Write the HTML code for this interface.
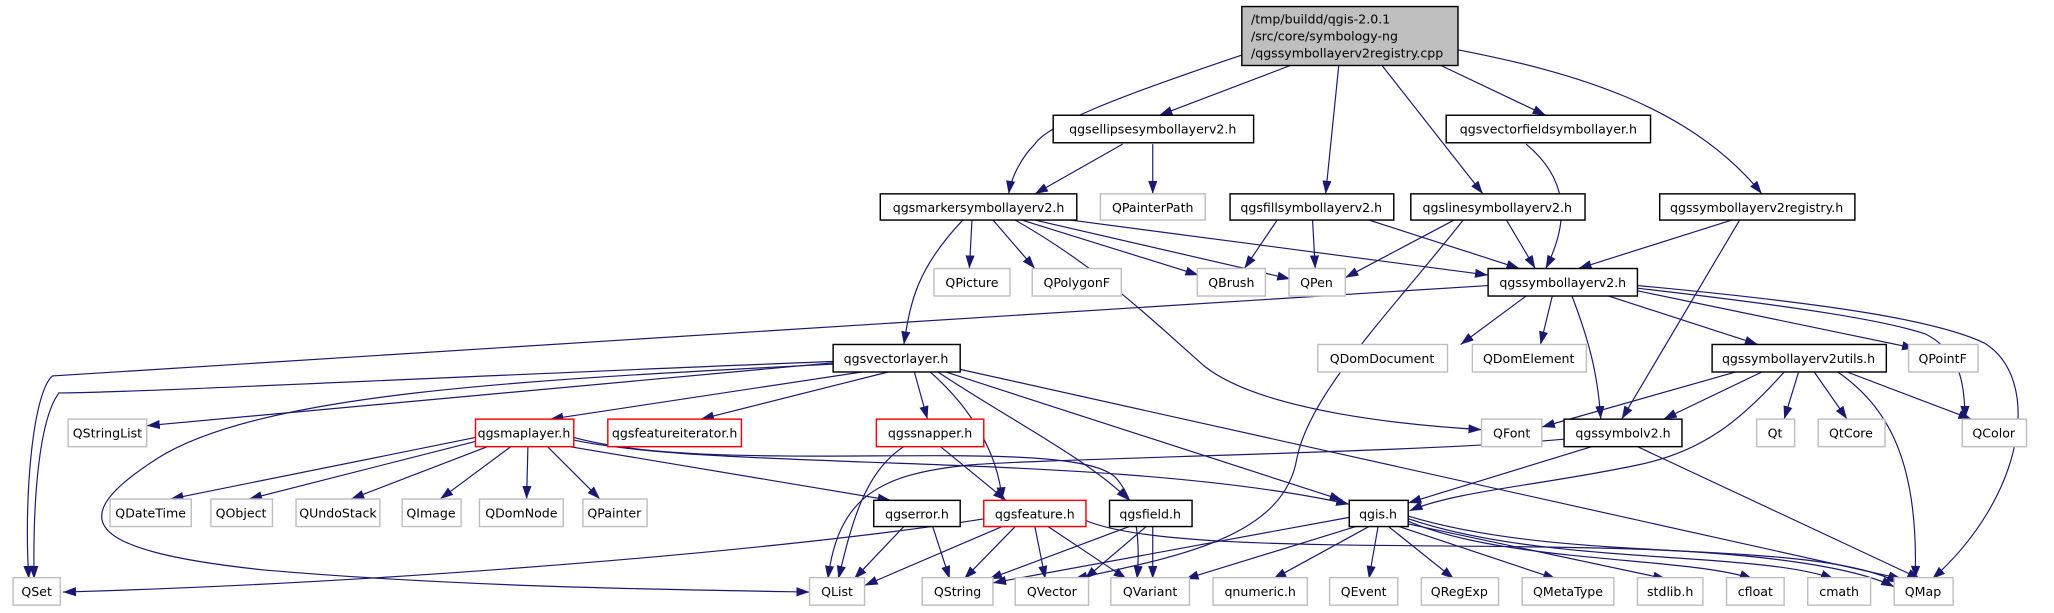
<!DOCTYPE html>
<html><head><meta charset="utf-8"><style>
html,body{margin:0;padding:0;background:#fff;}
svg{display:block;}
text{font-family:"DejaVu Sans","Liberation Sans",sans-serif;font-size:9.6px;fill:#000;}
.e{fill:none;stroke:#191970;stroke-width:0.9;marker-end:url(#a);}
.n{fill:#fff;stroke:#000;stroke-width:1.1;}
.g{fill:#fff;stroke:#bfbfbf;stroke-width:1.1;}
.r{fill:#fff;stroke:#ff0000;stroke-width:1.1;}
</style></head><body>
<svg width="2054" height="613" viewBox="0 0 1568 468" preserveAspectRatio="none" xmlns="http://www.w3.org/2000/svg">
<defs><marker id="a" markerWidth="10" markerHeight="7" refX="10" refY="3.5" orient="auto" markerUnits="userSpaceOnUse"><path d="M0,0 L10,3.5 L0,7 z" fill="#191970"/></marker></defs>
<g>
<path class="e" d="M948,42 C850,75 800,95 790,110 C780,120 772,135 770,148"/>
<path class="e" d="M985,50 L885,88"/>
<path class="e" d="M1022,50 L1012,148"/>
<path class="e" d="M1055,50 L1132,148"/>
<path class="e" d="M1100,50 L1180,88"/>
<path class="e" d="M1113,38 C1200,55 1290,80 1345,148"/>
<path class="e" d="M857,110 L790,148"/>
<path class="e" d="M880,110 L880,148"/>
<path class="e" d="M1165,110 C1195,135 1200,165 1180,205"/>
<path class="e" d="M742,168 L740,205"/>
<path class="e" d="M758,168 L790,205"/>
<path class="e" d="M780,168 L915,210"/>
<path class="e" d="M790,168 L985,213"/>
<path class="e" d="M802,166 L1136,210"/>
<path class="e" d="M775,168 C840,205 880,245 920,280 C965,315 1080,325 1131,328"/>
<path class="e" d="M735,168 C700,205 695,230 690,263"/>
<path class="e" d="M975,168 L950,205"/>
<path class="e" d="M1002,168 L1004,205"/>
<path class="e" d="M1045,168 L1160,205"/>
<path class="e" d="M1110,168 L1027,212"/>
<path class="e" d="M1150,168 L1172,205"/>
<path class="e" d="M1117,168 C1060,240 1000,300 990,350 C980,410 900,425 820,442"/>
<path class="e" d="M1322,168 L1205,205"/>
<path class="e" d="M1328,168 L1238,320"/>
<path class="e" d="M1136,218 L40,287 C25,300 18,380 22,442"/>
<path class="e" d="M1165,226 L1115,263"/>
<path class="e" d="M1185,226 L1176,263"/>
<path class="e" d="M1200,226 C1215,265 1220,290 1222,320"/>
<path class="e" d="M1228,226 L1342,263"/>
<path class="e" d="M1250,222 L1462,266"/>
<path class="e" d="M1250,220 C1380,235 1440,245 1470,255 C1495,268 1500,290 1500,320"/>
<path class="e" d="M1250,218 C1400,232 1480,245 1515,262 C1560,290 1545,380 1475,442"/>
<path class="e" d="M636,276 C400,285 100,300 45,300 C30,320 25,380 26,442"/>
<path class="e" d="M636,277 L112,325"/>
<path class="e" d="M636,278 C400,290 200,300 120,350 C50,395 60,420 200,435 C350,448 500,450 618,452"/>
<path class="e" d="M658,284 L420,320"/>
<path class="e" d="M678,284 L535,320"/>
<path class="e" d="M698,284 L708,320"/>
<path class="e" d="M710,284 C740,310 762,345 765,382"/>
<path class="e" d="M716,284 C770,320 830,350 862,382"/>
<path class="e" d="M722,284 L1025,382"/>
<path class="e" d="M733,282 L1452,442"/>
<path class="e" d="M363,334 L130,381"/>
<path class="e" d="M363,337 L190,381"/>
<path class="e" d="M372,341 L268,381"/>
<path class="e" d="M390,341 L336,381"/>
<path class="e" d="M403,341 L402,381"/>
<path class="e" d="M418,341 L458,381"/>
<path class="e" d="M435,341 L680,382"/>
<path class="e" d="M438,336 C550,360 850,345 1030,385"/>
<path class="e" d="M438,334 C550,365 820,330 852,365 C870,385 870,420 868,442"/>
<path class="e" d="M690,341 C660,360 650,400 640,442"/>
<path class="e" d="M718,341 L768,382"/>
<path class="e" d="M690,402 L652,442"/>
<path class="e" d="M712,402 L725,442"/>
<path class="e" d="M752,396 C600,420 300,445 48,452"/>
<path class="e" d="M765,402 L660,447"/>
<path class="e" d="M775,402 L736,442"/>
<path class="e" d="M790,402 L798,442"/>
<path class="e" d="M800,402 L860,442"/>
<path class="e" d="M828,397 C880,420 1050,415 1200,418 C1350,420 1420,435 1446,448"/>
<path class="e" d="M862,402 L755,442"/>
<path class="e" d="M875,402 L828,442"/>
<path class="e" d="M880,402 L880,442"/>
<path class="e" d="M1030,395 L758,445"/>
<path class="e" d="M1035,402 L905,442"/>
<path class="e" d="M1045,402 L972,442"/>
<path class="e" d="M1052,402 L1045,442"/>
<path class="e" d="M1060,402 L1110,442"/>
<path class="e" d="M1068,402 L1188,442"/>
<path class="e" d="M1075,400 L1272,442"/>
<path class="e" d="M1075,398 C1150,430 1290,425 1338,442"/>
<path class="e" d="M1075,396 C1180,432 1340,420 1400,442"/>
<path class="e" d="M1075,394 C1200,432 1380,410 1450,445"/>
<path class="e" d="M1196,335 C1100,345 800,350 740,355 C670,362 640,380 632,442"/>
<path class="e" d="M1215,341 L1075,384"/>
<path class="e" d="M1250,341 L1466,442"/>
<path class="e" d="M1325,284 L1177,326"/>
<path class="e" d="M1345,284 L1270,320"/>
<path class="e" d="M1362,284 C1330,320 1300,345 1250,355 C1180,370 1110,375 1076,390"/>
<path class="e" d="M1373,284 L1362,320"/>
<path class="e" d="M1385,284 L1410,320"/>
<path class="e" d="M1410,284 L1505,320"/>
<path class="e" d="M1403,284 C1440,310 1465,350 1462,442"/>
</g>
<g>
<rect x="948" y="5" width="165" height="45" fill="#bfbfbf" stroke="#000" stroke-width="1.1"/>
<text x="955" y="18">/tmp/buildd/qgis-2.0.1</text>
<text x="955" y="31">/src/core/symbology-ng</text>
<text x="955" y="44">/qgssymbollayerv2registry.cpp</text>
</g>
<g text-anchor="middle">
<rect class="n" x="804" y="88" width="153" height="21"/><text x="880" y="102">qgsellipsesymbollayerv2.h</text>
<rect class="n" x="1104" y="88" width="156" height="21"/><text x="1182" y="102">qgsvectorfieldsymbollayer.h</text>
<rect class="n" x="672" y="148" width="150" height="20"/><text x="747" y="162">qgsmarkersymbollayerv2.h</text>
<rect class="g" x="840" y="148" width="80" height="20"/><text x="880" y="162">QPainterPath</text>
<rect class="n" x="939" y="148" width="125" height="20"/><text x="1001" y="162">qgsfillsymbollayerv2.h</text>
<rect class="n" x="1077" y="148" width="133" height="20"/><text x="1143" y="162">qgslinesymbollayerv2.h</text>
<rect class="n" x="1267" y="148" width="149" height="20"/><text x="1341" y="162">qgssymbollayerv2registry.h</text>
<rect class="g" x="713" y="205" width="58" height="21"/><text x="742" y="219">QPicture</text>
<rect class="g" x="788" y="205" width="68" height="21"/><text x="822" y="219">QPolygonF</text>
<rect class="g" x="914" y="205" width="52" height="21"/><text x="940" y="219">QBrush</text>
<rect class="g" x="984" y="205" width="43" height="21"/><text x="1005" y="219">QPen</text>
<rect class="n" x="1136" y="205" width="114" height="21"/><text x="1193" y="219">qgssymbollayerv2.h</text>
<rect class="n" x="636" y="263" width="97" height="21"/><text x="684" y="277">qgsvectorlayer.h</text>
<rect class="g" x="1006" y="263" width="99" height="21"/><text x="1055" y="277">QDomDocument</text>
<rect class="g" x="1124" y="263" width="87" height="21"/><text x="1167" y="277">QDomElement</text>
<rect class="n" x="1307" y="263" width="133" height="21"/><text x="1373" y="277">qgssymbollayerv2utils.h</text>
<rect class="g" x="1457" y="263" width="53" height="21"/><text x="1483" y="277">QPointF</text>
<rect class="g" x="52" y="320" width="60" height="21"/><text x="82" y="334">QStringList</text>
<rect class="r" x="363" y="320" width="75" height="21"/><text x="400" y="334">qgsmaplayer.h</text>
<rect class="r" x="464" y="320" width="102" height="21"/><text x="515" y="334">qgsfeatureiterator.h</text>
<rect class="r" x="669" y="320" width="82" height="21"/><text x="710" y="334">qgssnapper.h</text>
<rect class="g" x="1131" y="320" width="46" height="21"/><text x="1154" y="334">QFont</text>
<rect class="n" x="1194" y="320" width="90" height="21"/><text x="1239" y="334">qgssymbolv2.h</text>
<rect class="g" x="1341" y="320" width="29" height="21"/><text x="1355" y="334">Qt</text>
<rect class="g" x="1388" y="320" width="51" height="21"/><text x="1413" y="334">QtCore</text>
<rect class="g" x="1498" y="320" width="49" height="21"/><text x="1522" y="334">QColor</text>
<rect class="g" x="84" y="381" width="62" height="21"/><text x="115" y="395">QDateTime</text>
<rect class="g" x="161" y="381" width="47" height="21"/><text x="184" y="395">QObject</text>
<rect class="g" x="226" y="381" width="64" height="21"/><text x="258" y="395">QUndoStack</text>
<rect class="g" x="307" y="381" width="45" height="21"/><text x="329" y="395">QImage</text>
<rect class="g" x="366" y="381" width="64" height="21"/><text x="398" y="395">QDomNode</text>
<rect class="g" x="445" y="381" width="49" height="21"/><text x="469" y="395">QPainter</text>
<rect class="n" x="667" y="382" width="66" height="20"/><text x="700" y="396">qgserror.h</text>
<rect class="r" x="751" y="382" width="78" height="20"/><text x="790" y="396">qgsfeature.h</text>
<rect class="n" x="847" y="382" width="63" height="20"/><text x="878" y="396">qgsfield.h</text>
<rect class="n" x="1030" y="382" width="45" height="20"/><text x="1052" y="396">qgis.h</text>
<rect class="g" x="10" y="441" width="36" height="21"/><text x="28" y="455">QSet</text>
<rect class="g" x="618" y="441" width="42" height="21"/><text x="639" y="455">QList</text>
<rect class="g" x="704" y="441" width="54" height="21"/><text x="731" y="455">QString</text>
<rect class="g" x="775" y="441" width="56" height="21"/><text x="803" y="455">QVector</text>
<rect class="g" x="848" y="441" width="60" height="21"/><text x="878" y="455">QVariant</text>
<rect class="g" x="926" y="441" width="72" height="21"/><text x="962" y="455">qnumeric.h</text>
<rect class="g" x="1015" y="441" width="52" height="21"/><text x="1041" y="455">QEvent</text>
<rect class="g" x="1085" y="441" width="59" height="21"/><text x="1114" y="455">QRegExp</text>
<rect class="g" x="1162" y="441" width="70" height="21"/><text x="1197" y="455">QMetaType</text>
<rect class="g" x="1250" y="441" width="50" height="21"/><text x="1275" y="455">stdlib.h</text>
<rect class="g" x="1318" y="441" width="44" height="21"/><text x="1340" y="455">cfloat</text>
<rect class="g" x="1380" y="441" width="48" height="21"/><text x="1404" y="455">cmath</text>
<rect class="g" x="1446" y="441" width="45" height="21"/><text x="1468" y="455">QMap</text>
</g>
</svg>
</body></html>
